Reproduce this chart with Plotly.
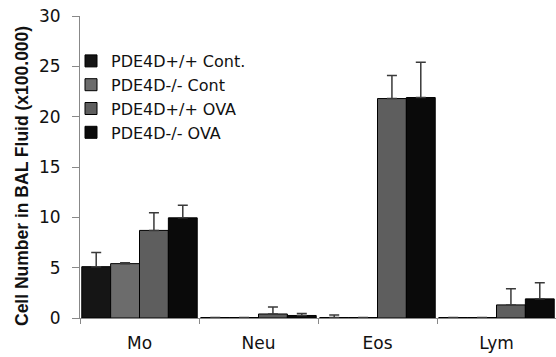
import plotly.graph_objects as go

categories = ["Mo", "Neu", "Eos", "Lym"]
series_names = ["PDE4D+/+ Cont.", "PDE4D-/- Cont", "PDE4D+/+ OVA", "PDE4D-/- OVA"]
wt_cont = [5.1, 0.05, 0.05, 0.05]
wt_cont_err = [1.4, 0.0, 0.25, 0.0]
ko_cont = [5.4, 0.05, 0.05, 0.05]
ko_cont_err = [0.1, 0.0, 0.0, 0.0]
wt_ova = [8.7, 0.4, 21.8, 1.3]
wt_ova_err = [1.75, 0.7, 2.3, 1.6]
ko_ova = [9.95, 0.25, 21.9, 1.9]
ko_ova_err = [1.25, 0.2, 3.5, 1.6]
y_ticks = [0, 5, 10, 15, 20, 25, 30]
y_title = "Cell Number in BAL Fluid (x100.000)"

values = [wt_cont, ko_cont, wt_ova, ko_ova]
errors = [wt_cont_err, ko_cont_err, wt_ova_err, ko_ova_err]
colors = ["#151515", "#6c6c6c", "#5e5e5e", "#0a0a0a"]

fig = go.Figure()
for name, v, e, c in zip(series_names, values, errors, colors):
    fig.add_trace(go.Bar(
        x=categories, y=v, name=name,
        marker=dict(color=c, line=dict(color="#000000", width=1)),
        error_y=dict(type="data", array=e, arrayminus=[0]*len(e), symmetric=False,
                     color="#3a3a3a", thickness=1.5, width=5),
    ))

fig.add_annotation(
    text="<b>" + y_title + "</b>", textangle=-90,
    xref="paper", yref="paper", x=(22 - 80) / 476, y=(318 - 176) / 302,
    xanchor="center", yanchor="middle", showarrow=False,
    font=dict(family="Liberation Sans, Arial, sans-serif", size=17.5, color="#111111"),
)

fig.update_layout(
    width=556, height=357,
    margin=dict(l=80, r=0, t=16, b=39, autoexpand=False),
    paper_bgcolor="white", plot_bgcolor="white",
    barmode="group", bargap=0.03, bargroupgap=0,
    font=dict(family="DejaVu Sans, sans-serif", color="#111111"),
    showlegend=True,
    legend=dict(x=(71 - 80) / 476, y=(318 - 44) / 302, xanchor="left", yanchor="top",
                font=dict(size=16, color="#111111"), bgcolor="rgba(0,0,0,0)",
                itemwidth=30, tracegroupgap=0),
    xaxis=dict(
        tickson="boundaries", ticks="outside", ticklen=5, tickcolor="#888888",
        showline=True, linecolor="#888888", linewidth=1, automargin=False,
        ticklabelstandoff=10,
        tickfont=dict(size=17, color="#111111"), range=[-0.5, 3.5],
    ),
    yaxis=dict(
        range=[0, 30], tickvals=y_ticks, ticks="outside", ticklen=7, tickcolor="#888888",
        showline=True, linecolor="#888888", linewidth=1, showgrid=False, zeroline=False,
        automargin=False, ticklabelstandoff=8,
        tickfont=dict(size=17, color="#111111"),
    ),
)

fig.write_html("out.html", config={"displayModeBar": False},
               post_script="document.body.style.margin='0';")
